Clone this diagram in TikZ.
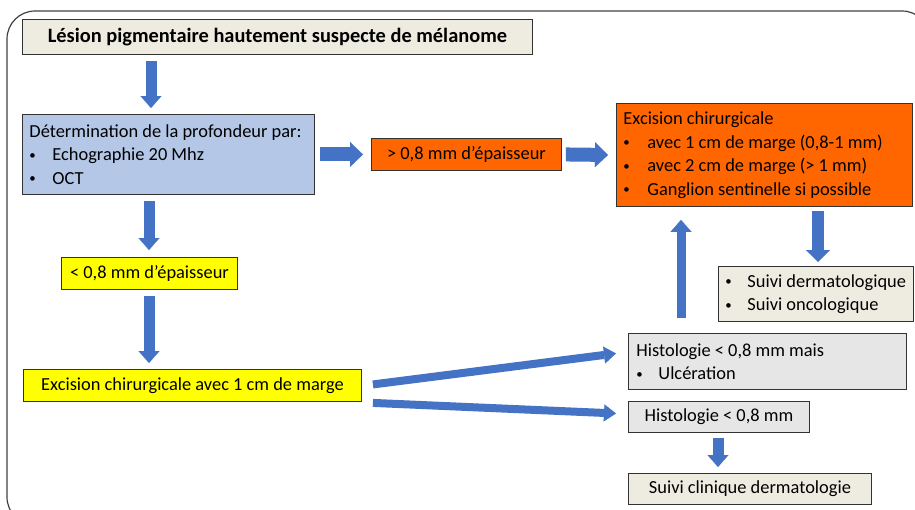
\documentclass[tikz,border=0pt]{standalone}
\usepackage{fontspec}
\usepackage{graphicx}
\setmainfont{Carlito}
\usetikzlibrary{arrows.meta}
\definecolor{arrowblue}{HTML}{4472C4}
\definecolor{beige}{HTML}{EEECE1}
\definecolor{paleblue}{HTML}{B4C7E7}
\definecolor{orangebox}{HTML}{FF6600}
\definecolor{yellowbox}{HTML}{FFFF00}
\definecolor{greybox}{HTML}{E7E6E6}
\definecolor{framecol}{HTML}{404040}
\newcommand{\bul}[2][22pt]{\makebox[#1][l]{\raisebox{0.08em}{\scalebox{0.7}{\textbullet}}}#2}
\tikzset{
  box/.style={draw=black!80, line width=0.9pt, anchor=north west, inner sep=0pt,
    font=\fontsize{18.4}{23.5}\selectfont},
  cbox/.style={box, align=center},
  lbox/.style={box, align=flush left},
  varrow/.style={draw=arrowblue, line width=11pt,
    -{Triangle[width=21pt,length=12pt,line width=0.1pt]}},
  harrow/.style={draw=arrowblue, line width=14pt,
    -{Triangle[width=25pt,length=13pt,line width=0.1pt]}},
  darrow/.style={draw=arrowblue, line width=8pt,
    -{Triangle[width=17pt,length=12pt,line width=0.1pt]}},
}
\begin{document}
\begin{tikzpicture}[x=1pt,y=-1pt]
\useasboundingbox (0,0) rectangle (915,509);
\begin{scope}
\clip (0,0) rectangle (915,509);
\draw[framecol, line width=1.2pt, rounded corners=28pt] (7,11) rectangle (930,525);
\end{scope}

% boxes
\node[cbox, fill=beige, minimum width=510pt, minimum height=35pt,
  font=\fontsize{20.4}{24}\selectfont\bfseries] (title) at (22,19)
  {Lésion pigmentaire hautement suspecte de mélanome};
\node[lbox, fill=paleblue, minimum height=80pt, inner xsep=7pt, text width=278pt] (det) at (22,114)
  {Détermination de la profondeur par:\\
   \bul[23pt]{Echographie 20 Mhz}\\
   \bul[23pt]{OCT}};
\node[cbox, fill=orangebox, minimum width=190pt, minimum height=32pt] (o1) at (371,138)
  {> 0,8 mm d’épaisseur};
\node[lbox, fill=orangebox, minimum height=103pt, inner xsep=7pt, text width=282pt] (o2) at (616,103)
  {Excision chirurgicale\\
   \bul[24pt]{avec 1 cm de marge (0,8-1 mm)}\\
   \bul[24pt]{avec 2 cm de marge (> 1 mm)}\\
   \bul[24pt]{Ganglion sentinelle si possible}};
\node[lbox, fill=beige, minimum height=55pt, inner xsep=7pt, text width=181pt] (s1) at (718,266)
  {\bul{Suivi dermatologique}\\
   \bul{Suivi oncologique}};
\node[cbox, fill=yellowbox, minimum width=176pt, minimum height=32pt] (y1) at (61,257)
  {< 0,8 mm d’épaisseur};
\node[cbox, fill=yellowbox, minimum width=338pt, minimum height=32pt] (y2) at (23,369)
  {Excision chirurgicale avec 1 cm de marge};
\node[lbox, fill=greybox, minimum height=56pt, inner xsep=8pt, text width=262pt] (hm) at (628,333)
  {Histologie < 0,8 mm mais\\
   \bul{Ulcération}};
\node[cbox, fill=greybox, minimum width=181pt, minimum height=31pt] (h) at (628,401)
  {Histologie < 0,8 mm};
\node[cbox, fill=beige, minimum width=243pt, minimum height=31pt] (sc) at (628,473)
  {Suivi clinique dermatologie};

% arrows
\draw[varrow] ([xshift=129pt,yshift=-6pt]title.south west) -- ([xshift=129pt,yshift=6pt]det.north west);
\draw[varrow] ([xshift=127pt,yshift=-6pt]det.south west) -- ([xshift=88pt,yshift=7pt]y1.north west);
\draw[varrow] ([xshift=88pt,yshift=-6pt]y1.south west) -- ([xshift=126pt,yshift=6pt]y2.north west);
\draw[harrow] ([xshift=5pt]det.east) -- ([xshift=-8pt]o1.west);
\draw[harrow] ([xshift=4pt]o1.east) -- ([xshift=-8pt]o2.west);
\draw[varrow, line width=9pt] ([xshift=53pt,yshift=15pt]hm.north west) -- ([xshift=65pt,yshift=-13pt]o2.south west);
\draw[varrow, line width=12pt, -{Triangle[width=24pt,length=12pt,line width=0.1pt]}]
  ([xshift=202pt,yshift=-4pt]o2.south west) -- ([xshift=100pt,yshift=4pt]s1.north west);
\draw[darrow] ([xshift=11pt,yshift=1pt]y2.east) -- ([xshift=-12pt,yshift=8pt]hm.west);
\draw[darrow] ([xshift=11pt,yshift=-1pt]y2.south east) -- ([xshift=-12pt,yshift=3.5pt]h.west);
\draw[varrow] ([xshift=90pt,yshift=-5pt]h.south west) -- ([xshift=90pt,yshift=6pt]sc.north west);
\end{tikzpicture}
\end{document}
